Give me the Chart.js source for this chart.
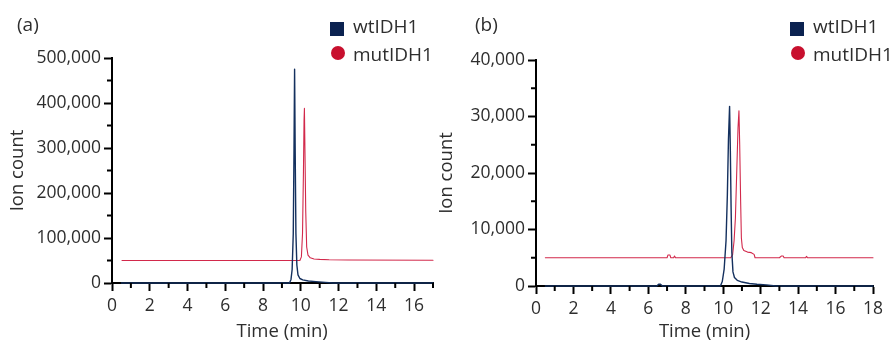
<!DOCTYPE html>
<html>
<head>
<meta charset="utf-8">
<script src="https://cdn.jsdelivr.net/npm/chart.js@4.4.1/dist/chart.umd.min.js"></script>
<style>
  body { margin: 0; background: #fff; }
  #wrap { position: relative; width: 893px; height: 343px; overflow: hidden; font-family: 'Open Sans', sans-serif; color: #2e2e2e; }
  canvas { position: absolute; top: 0; }
  .txt { position: absolute; font-size: 19px; line-height: 20px; white-space: nowrap; }
  .sq { position: absolute; width: 14px; height: 14px; background: #0b2250; }
  .dot { position: absolute; width: 14px; height: 14px; border-radius: 50%; background: #c8102e; }
</style>
</head>
<body>
<div id="wrap">
  <canvas id="chartA" width="446" height="343" style="left:0"></canvas>
  <canvas id="chartB" width="457" height="343" style="left:436px"></canvas>

  <div class="txt" style="left:17px;top:14px">(a)</div>
  <div class="txt" style="left:475px;top:14px">(b)</div>

  <div class="sq" style="left:330px;top:22px"></div>
  <div class="txt" style="left:353px;top:16px">wtIDH1</div>
  <div class="dot" style="left:331px;top:46px"></div>
  <div class="txt" style="left:353px;top:44px">mutIDH1</div>

  <div class="sq" style="left:790px;top:22px"></div>
  <div class="txt" style="left:813px;top:16px">wtIDH1</div>
  <div class="dot" style="left:791px;top:46px"></div>
  <div class="txt" style="left:813px;top:44px">mutIDH1</div>
</div>

<script>
// panel (a) axes
const xTicksA = [0, 2, 4, 6, 8, 10, 12, 14, 16];
const xMinorA = [1, 3, 5, 7, 9, 11, 13, 15, 17];
const yTicksA = [0, 100000, 200000, 300000, 400000, 500000];
const yMinorA = [50000, 150000, 250000, 350000, 450000];

// panel (a) traces
const wtTimeA = [0.5, 9.4, 9.48, 9.54, 9.6, 9.64, 9.67, 9.7, 9.74, 9.79, 9.85, 9.95, 10.1, 10.4, 10.8, 11.3, 11.7, 17];
const wtValA  = [0, 0, 8000, 30000, 110000, 300000, 475000, 300000, 110000, 40000, 18000, 10000, 7000, 4500, 3000, 1500, 0, 0];
const mutTimeA = [0.53, 9.95, 10.03, 10.09, 10.14, 10.17, 10.19, 10.22, 10.26, 10.31, 10.38, 10.5, 10.7, 11.0, 11.5, 12.5, 17];
const mutValA  = [50000, 50000, 58000, 110000, 250000, 360000, 388000, 290000, 160000, 80000, 62000, 56000, 53500, 52500, 51500, 51000, 50500];

// panel (b) axes
const xTicksB = [0, 2, 4, 6, 8, 10, 12, 14, 16, 18];
const xMinorB = [1, 3, 5, 7, 9, 11, 13, 15, 17];
const yTicksB = [0, 10000, 20000, 30000, 40000];
const yMinorB = [5000, 15000, 25000, 35000];

// panel (b) traces
const wtTimeB = [0.5, 6.45, 6.55, 6.65, 6.75, 9.85, 9.95, 10.05, 10.15, 10.22, 10.28, 10.34, 10.38, 10.42, 10.46, 10.52, 10.6, 10.75, 11.0, 11.4, 11.8, 12.3, 12.8, 18];
const wtValB  = [0, 0, 300, 300, 0, 0, 800, 3000, 8000, 16000, 26000, 31800, 24000, 14000, 6000, 2500, 1500, 1000, 700, 450, 300, 200, 0, 0];
const mutTimeB = [0.5, 7.0, 7.05, 7.15, 7.2, 7.35, 7.4, 7.45, 10.4, 10.5, 10.58, 10.65, 10.72, 10.79, 10.84, 10.88, 10.93, 10.97, 11.02, 11.1, 11.3, 11.5, 11.65, 11.7, 13.0, 13.1, 13.2, 13.25, 14.4, 14.45, 14.5, 18];
const mutValB  = [5000, 5000, 5500, 5500, 5000, 5000, 5300, 5000, 5000, 5500, 8000, 12000, 20000, 28000, 31000, 25000, 15000, 8500, 6800, 6300, 6000, 5900, 5600, 5000, 5000, 5300, 5300, 5000, 5000, 5250, 5000, 5000];

const navy = '#14305e';
const red = '#d2294b';
const txtColor = '#2e2e2e';
const tickFont = { family: 'Open Sans', size: 17.5 };
const titleFont = { family: 'Open Sans', size: 18.5 };

// short outward ticks between the labelled ones
const minorTicks = {
  id: 'minorTicks',
  afterDraw(chart, args, opts) {
    const { ctx, scales: { x, y } } = chart;
    ctx.save();
    ctx.strokeStyle = '#000';
    ctx.lineWidth = 2;
    ctx.beginPath();
    for (const v of opts.x) {
      const px = x.getPixelForValue(v);
      ctx.moveTo(px, x.top);
      ctx.lineTo(px, x.top + 5);
    }
    for (const v of opts.y) {
      const py = y.getPixelForValue(v);
      ctx.moveTo(y.right, py);
      ctx.lineTo(y.right - 5, py);
    }
    ctx.stroke();
    ctx.restore();
  }
};

const pts = (t, v) => t.map((tt, i) => ({ x: tt, y: v[i] }));

// the (practically solid) dash keeps Chart.js off its fast path, which
// merges points sharing a pixel column and leaves stubs on narrow peaks
const line = (label, data, color, width) => ({
  label, data, borderColor: color, borderWidth: width,
  borderDash: [10000, 1],
  borderJoinStyle: 'round', borderCapStyle: 'round',
  pointRadius: 0, tension: 0, clip: 6
});

const buildChart = (id, o) => new Chart(document.getElementById(id), {
  type: 'line',
  data: {
    datasets: [
      line('wtIDH1', pts(o.wtT, o.wtV), navy, 1.4),
      line('mutIDH1', pts(o.mutT, o.mutV), red, 1.1)
    ]
  },
  options: {
    responsive: false,
    animation: false,
    devicePixelRatio: 1,
    layout: { padding: { top: o.top, right: o.right, bottom: 0, left: 0 } },
    plugins: {
      legend: { display: false },
      tooltip: { enabled: false },
      minorTicks: { x: o.xMinor, y: o.yMinor }
    },
    scales: {
      x: {
        type: 'linear',
        min: 0,
        max: o.xMax,
        afterBuildTicks: s => { s.ticks = o.xTicks.map(v => ({ value: v })); },
        afterFit: s => { s.height = o.xH; },
        ticks: { font: tickFont, color: txtColor, padding: 5, maxRotation: 0, autoSkip: false },
        grid: { drawOnChartArea: false, tickLength: 8, tickWidth: 2, tickColor: '#000' },
        border: { color: '#000', width: 2 },
        title: { display: true, text: o.xTitle, font: titleFont, color: txtColor, padding: 0 }
      },
      y: {
        min: 0,
        max: o.yMax,
        afterBuildTicks: s => { s.ticks = o.yTicks.map(v => ({ value: v })); },
        afterFit: s => { s.width = o.yW; },
        ticks: { font: tickFont, color: txtColor, padding: 3, callback: v => v.toLocaleString('en-US') },
        grid: { drawOnChartArea: false, tickLength: 8, tickWidth: 2, tickColor: '#000' },
        border: { color: '#000', width: 2 },
        title: { display: true, text: 'Ion count', font: titleFont, color: txtColor, padding: { top: o.yTitlePad, bottom: 0 } }
      }
    }
  },
  plugins: [minorTicks]
});

window.onload = function() {
  buildChart('chartA', {
    wtT: wtTimeA, wtV: wtValA, mutT: mutTimeA, mutV: mutValA,
    xTicks: xTicksA, xMinor: xMinorA, yTicks: yTicksA, yMinor: yMinorA,
    xMax: 17, yMax: 500000, top: 58, right: 13, xH: 60, yW: 112, yTitlePad: 7,
    xTitle: '    Time (min)'
  });
  buildChart('chartB', {
    wtT: wtTimeB, wtV: wtValB, mutT: mutTimeB, mutV: mutValB,
    xTicks: xTicksB, xMinor: xMinorB, yTicks: yTicksB, yMinor: yMinorB,
    xMax: 18, yMax: 40000, top: 60, right: 20, xH: 57, yW: 100, yTitlePad: 0,
    xTitle: 'Time (min)'
  });
};
</script>
</body>
</html>
